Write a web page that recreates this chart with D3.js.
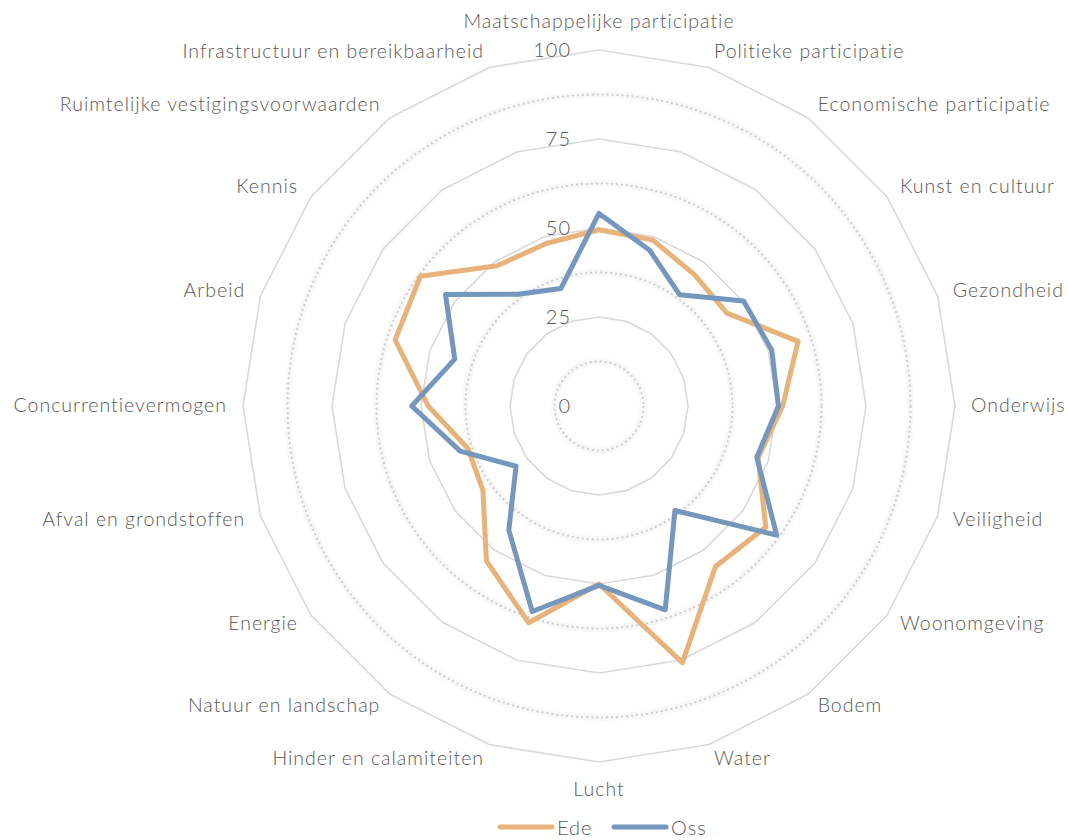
<!DOCTYPE html>
<html>
<head>
<meta charset="utf-8">
<script src="https://cdn.jsdelivr.net/npm/d3@7"></script>
<style>
  html, body { margin: 0; padding: 0; background: #ffffff; }
  svg { display: block; }
  text { font-family: Lato, "Open Sans", sans-serif; font-weight: 300; fill: #595959; letter-spacing: 1px; }
</style>
</head>
<body>
<svg id="chart" width="1068" height="840"></svg>
<script>
// Domains, clockwise from the top
const categories = [
  "Maatschappelijke participatie", "Politieke participatie", "Economische participatie",
  "Kunst en cultuur", "Gezondheid", "Onderwijs", "Veiligheid", "Woonomgeving",
  "Bodem", "Water", "Lucht", "Hinder en calamiteiten", "Natuur en landschap",
  "Energie", "Afval en grondstoffen", "Concurrentievermogen", "Arbeid", "Kennis",
  "Ruimtelijke vestigingsvoorwaarden", "Infrastructuur en bereikbaarheid"
];
const ede = [49.5, 49, 45.6, 44.4, 58.8, 51.6, 47, 57.9, 55.7, 75.8,
             50, 64, 53.8, 40.3, 38.7, 48, 60.2, 62, 48.7, 48];
const oss = [54.1, 46, 38.6, 50.2, 51, 50.4, 46.6, 61.7, 36.3, 60.2,
             50.4, 60.7, 43.1, 28.8, 41, 52.6, 42.6, 53.3, 38.8, 34.7];
const seriesNames = ["Ede", "Oss"];
const seriesColors = ["#e8b27b", "#7596bd"];
const majorTicks = [0, 25, 50, 75, 100];
const minorTicks = [12.5, 37.5, 62.5, 87.5];

const svg = d3.select("#chart");
const cx = 599, cy = 406, R = 356;

const r = d3.scaleLinear().domain([0, 100]).range([0, R]);
const angle = d3.scaleLinear().domain([0, categories.length]).range([0, 2 * Math.PI]);

const g = svg.append("g").attr("transform", `translate(${cx},${cy})`);

// Minor gridlines: dotted circles with a faint halo
minorTicks.forEach(v => {
  g.append("circle").attr("r", r(v))
    .attr("fill", "none").attr("stroke", "#f8f8f8").attr("stroke-width", 7);
  g.append("circle").attr("r", r(v))
    .attr("fill", "none").attr("stroke", "#cdcdcd").attr("stroke-width", 2)
    .attr("stroke-dasharray", "2 3");
});

// Major gridlines: polygons through every axis
const ringLine = d3.lineRadial().angle((d, i) => angle(i)).curve(d3.curveLinearClosed);
majorTicks.filter(v => v > 0).forEach(v => {
  g.append("path")
    .attr("d", ringLine.radius(() => r(v))(categories))
    .attr("fill", "none").attr("stroke", "#d9d9d9").attr("stroke-width", 1.6);
});

// Value labels on the vertical axis
g.selectAll("text.tick").data(majorTicks).join("text")
  .attr("class", "tick")
  .attr("x", -28).attr("y", d => -r(d) - 1)
  .attr("text-anchor", "end").attr("dominant-baseline", "central")
  .attr("font-size", 20)
  .text(d => d);

// Category labels
const labelR = R + 16;
g.selectAll("text.cat").data(categories).join("text")
  .attr("class", "cat")
  .attr("font-size", 19.5)
  .each(function (d, i) {
    const a = angle(i);
    const s = Math.sin(a), c = Math.cos(a);
    const x = labelR * s, y = -labelR * c;
    const t = d3.select(this).attr("x", x).attr("y", y).text(d);
    if (Math.abs(s) < 0.01) {
      t.attr("text-anchor", "middle");
      if (c > 0) t.attr("y", y - 6).attr("dominant-baseline", "auto");
      else t.attr("y", y + 3).attr("dominant-baseline", "hanging");
    } else {
      t.attr("text-anchor", s > 0 ? "start" : "end")
        .attr("y", y - 2).attr("dominant-baseline", "central");
    }
  });

// Series lines
const seriesLine = d3.lineRadial()
  .angle((d, i) => angle(i))
  .radius(d => r(d))
  .curve(d3.curveLinearClosed);
[ede, oss].forEach((vals, k) => {
  g.append("path")
    .attr("d", seriesLine(vals))
    .attr("fill", "none")
    .attr("stroke", seriesColors[k])
    .attr("stroke-width", 5)
    .attr("stroke-linejoin", "round");
});

// Legend
const legend = svg.append("g").attr("transform", "translate(0,827)");
const legendX = [500, 614];
seriesNames.forEach((name, k) => {
  const lg = legend.append("g").attr("transform", `translate(${legendX[k]},0)`);
  lg.append("line").attr("x1", 0).attr("x2", 52).attr("y1", 0).attr("y2", 0)
    .attr("stroke", seriesColors[k]).attr("stroke-width", 5).attr("stroke-linecap", "round");
  lg.append("text").attr("x", 57).attr("y", 0)
    .attr("dominant-baseline", "central").attr("font-size", 20).text(name);
});
</script>
</body>
</html>
